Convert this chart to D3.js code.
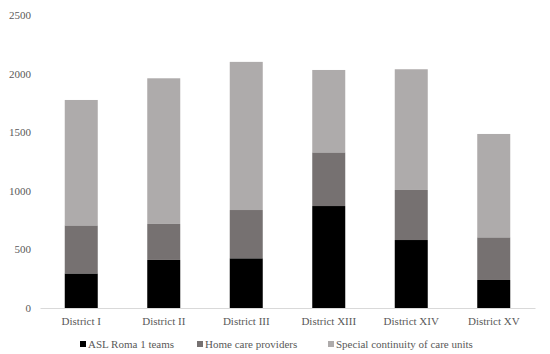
<!DOCTYPE html>
<meta charset="utf-8">
<script src="https://d3js.org/d3.v7.min.js"></script>
<style>
    body { margin: 0; background: #fff; }
    text { font-family: "Liberation Serif", "Times New Roman", serif; }
</style>
<body>
<div id="chart"></div>
<script>
    // data
    var districts = ["District I", "District II", "District III", "District XIII", "District XIV", "District XV"]
    var aslTeams = [295, 410, 424, 870, 580, 239]
    var homeCare = [410, 307, 412, 458, 427, 364]
    var specialUnits = [1070, 1243, 1264, 703, 1030, 882]
    var seriesNames = ["ASL Roma 1 teams", "Home care providers", "Special continuity of care units"]
    var yTicks = [0, 500, 1000, 1500, 2000, 2500]

    var width = 550, height = 354
    var colors = ["#000000", "#767171", "#aeabab"]

    var svg = d3.select("#chart").append("svg")
        .attr("width", width)
        .attr("height", height)

    var x = d3.scaleBand()
        .domain(districts)
        .range([40, 535])
        .paddingInner(0.6)
        .paddingOuter(0.3)

    var y = d3.scaleLinear()
        .domain([0, 2500])
        .range([308, 15])

    // build rows for the stack
    var rows = districts.map(function (d, i) {
        return { district: d, s0: aslTeams[i], s1: homeCare[i], s2: specialUnits[i] }
    })
    var stacked = d3.stack().keys(["s0", "s1", "s2"])(rows)

    svg.append("g")
        .selectAll("g")
        .data(stacked)
        .enter()
        .append("g")
        .attr("fill", function (d, i) { return colors[i] })
        .selectAll("rect")
        .data(function (d) { return d })
        .enter()
        .append("rect")
        .attr("x", function (d) { return x(d.data.district) })
        .attr("width", x.bandwidth())
        .attr("y", function (d) { return y(d[1]) })
        .attr("height", function (d) { return y(d[0]) - y(d[1]) })

    // y axis (labels only)
    var yAxis = svg.append("g")
        .attr("transform", "translate(31,0)")
        .call(d3.axisLeft(y).tickValues(yTicks).tickSize(0).tickPadding(0).tickFormat(d3.format("d")))
    yAxis.select(".domain").remove()
    yAxis.selectAll("text")
        .attr("fill", "#595959")
        .style("font-size", "11px")
        .style("font-family", "'Liberation Serif', serif")

    // x axis
    var xAxis = svg.append("g")
        .attr("transform", "translate(0,308)")
        .call(d3.axisBottom(x).tickSize(0).tickPadding(9).tickSizeOuter(0))
    xAxis.select(".domain").attr("stroke", "#d9d9d9")
    xAxis.selectAll("text")
        .attr("fill", "#595959")
        .style("font-size", "11px")
        .style("font-family", "'Liberation Serif', serif")

    // legend
    var legendX = [80, 197, 328]
    var legend = svg.append("g")
        .selectAll("g")
        .data(seriesNames)
        .enter()
        .append("g")
        .attr("transform", function (d, i) { return "translate(" + legendX[i] + ",348)" })
    legend.append("rect")
        .attr("x", 0)
        .attr("y", -7)
        .attr("width", 6)
        .attr("height", 6)
        .attr("fill", function (d, i) { return colors[i] })
    legend.append("text")
        .attr("x", 8)
        .attr("y", 0)
        .attr("fill", "#595959")
        .style("font-size", "11px")
        .text(function (d) { return d })
</script>
</body>
